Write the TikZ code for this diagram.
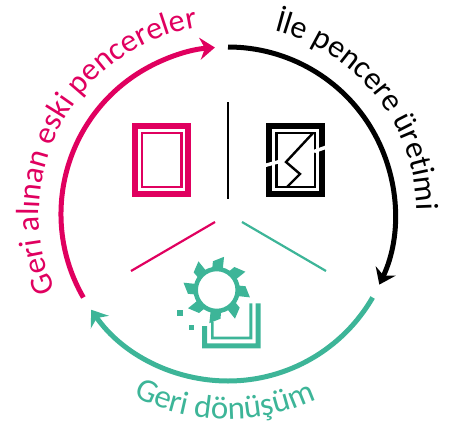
\documentclass[tikz,border=0pt]{standalone}
\usepackage{fontspec}
\setmainfont{Carlito}
\usetikzlibrary{arrows.meta,decorations.text}
\definecolor{pinkred}{HTML}{E0005F}
\definecolor{seagreen}{HTML}{3DB598}
\tikzset{
	cyclearc/.style={line width=5pt, -{Stealth[length=15pt,width=22pt,inset=5pt]}},
	divider/.style={line width=2.2pt},
}
\begin{document}
\begin{tikzpicture}[x=1pt,y=1pt]
	\useasboundingbox (0,-428) rectangle (449,0);
	\coordinate (center) at (228,-214);

	% outer cycle
	\draw[cyclearc, black] ([shift={(90:167)}]center) arc[start angle=90, end angle=-25, radius=167];
	\draw[cyclearc, seagreen] ([shift={(-30:167)}]center) arc[start angle=-30, end angle=-145, radius=167];
	\draw[cyclearc, pinkred] ([shift={(210:167)}]center) arc[start angle=210, end angle=94.5, radius=167];

	% labels
	\path[decorate, decoration={text along path, text align=center, text={|\fontsize{32}{32}\selectfont\color{black}|İle pencere üretimi}}]
		([shift={(81:189)}]center) arc[start angle=81, end angle=-4, radius=189];
	\path[decorate, decoration={text along path, text align=center, text={|\fontsize{32}{32}\selectfont\color{pinkred}|Geri alınan eski pencereler}}]
		([shift={(204:189)}]center) arc[start angle=204, end angle=99, radius=189];
	\path[decorate, decoration={text along path, text align=center, text={|\fontsize{33}{33}\selectfont\color{seagreen}|Geri dönüşüm}}]
		([shift={(-122:205)}]center) arc[start angle=-122, end angle=-60, radius=205];

	% dividers
	\draw[divider, black] (228.3,-102) -- (228.3,-199);
	\draw[divider, pinkred] (131,-271) -- (215,-222);
	\draw[divider, seagreen] (242,-222) -- (326,-271);

	% old window
	\draw[pinkred, line width=6pt] (135,-126) rectangle (188,-194);
	\draw[pinkred, line width=2.4pt] (142,-133) rectangle (181.5,-187);

	% new window
	\draw[black, line width=6pt] (269,-126) rectangle (322,-194);
	\draw[black, line width=2.4pt] (276.5,-133) rectangle (315,-187);
	\draw[white, line width=3.5pt] (263,-166) -- (285,-160);
	\draw[white, line width=3.5pt] (314,-151.5) -- (328,-146.5);
	\draw[black, line width=2.4pt] (313,-133) -- (286,-162) -- (300,-174) -- (287,-187);

	% recycling gear
	\coordinate (gear) at (216.7,-290);
	\draw[seagreen, line width=4.5pt] (gear) circle (21);
	\foreach \tip in {77.5,32.5,-12.5,-57.5,-102.5,-147.5,167.5,122.5}
		\fill[seagreen] ([shift={(\tip+25:21)}]gear) -- ([shift={(\tip+20:29)}]gear)
			-- ([shift={(\tip:34)}]gear) -- ([shift={(\tip-4:21)}]gear) -- cycle;

	% bin and crumbs
	\fill[seagreen] (202,-326) -- (207,-326) -- (207,-343.3) -- (255.7,-343.3) -- (255.7,-303.3)
		-- (260.7,-303.3) -- (260.7,-348.3) -- (202,-348.3) -- cycle;
	\fill[seagreen] (211,-322) -- (213.5,-322) -- (213.5,-336.5) -- (249.3,-336.5) -- (249.3,-303.3)
		-- (252.3,-303.3) -- (252.3,-339.3) -- (211,-339.3) -- cycle;
	\fill[seagreen] (177.3,-310.3) rectangle (183,-316);
	\fill[seagreen] (188.7,-324.7) rectangle (194,-329.7);
\end{tikzpicture}
\end{document}
